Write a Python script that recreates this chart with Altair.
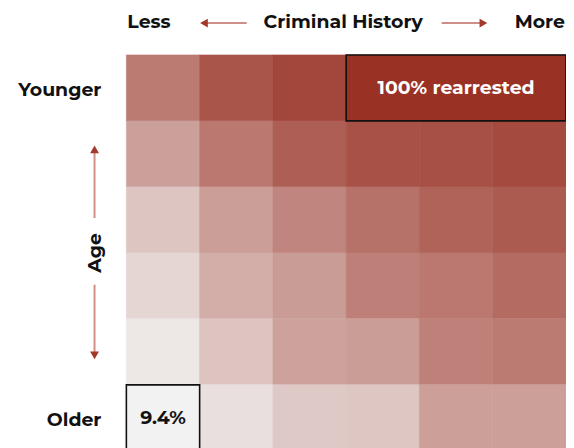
import altair as alt
import pandas as pd

# Rearrest rate (%) grid: rows from Younger (top) to Older (bottom), columns Less -> More criminal history
row_labels = ["Younger", "2", "3", "4", "5", "Older"]
rates = [
    [65.7, 83.1, 90.1, 100.0, None, None],
    [47.9, 66.7, 78.4, 84.5, 85.4, 88.2],
    [30.5, 48.8, 60.6, 70.0, 76.5, 80.3],
    [22.5, 41.3, 49.8, 63.4, 66.7, 72.8],
    [14.6, 31.0, 47.0, 49.3, 62.4, 65.3],
    [9.4, 18.3, 28.6, 30.1, 48.4, 48.4],
]
merged_span = 3  # the 100% cell covers the last three columns of the top row
cell_labels = {(0, 3): "100% rearrested", (5, 0): "9.4%"}

rows = []
for r, vals in enumerate(rates):
    for c, v in enumerate(vals):
        if v is None:
            continue
        span = merged_span if (r, c) == (0, 3) else 1
        rows.append({"row": r, "row2": r + 1, "col": c, "col2": c + span,
                     "rate": v, "label": cell_labels.get((r, c), "")})
cells = pd.DataFrame(rows)

FONT = "Montserrat, Open Sans, sans-serif"
FS = 19
W, H = 442, 398

x = alt.X("col:Q", scale=alt.Scale(domain=[0, 6], nice=False, zero=False), axis=None)
y = alt.Y("row:Q", scale=alt.Scale(domain=[0, 6], nice=False, zero=False, reverse=True), axis=None)
cscale = alt.Scale(domain=[9.4, 100], range=["#f2f2f2", "#993124"], interpolate="rgb")

base = alt.Chart(cells)
heat = base.mark_rect(strokeWidth=0.6).encode(
    x=x, x2="col2:Q", y=y, y2="row2:Q",
    color=alt.Color("rate:Q", legend=None, scale=cscale),
    stroke=alt.Stroke("rate:Q", legend=None, scale=cscale),
)
outline = base.transform_filter("datum.label != ''").mark_rect(
    fillOpacity=0, stroke="#111", strokeWidth=1.6
).encode(x=x, x2="col2:Q", y=y, y2="row2:Q")
labels = base.transform_filter("datum.label != ''").transform_calculate(
    cx="(datum.col + datum.col2) / 2", cy="(datum.row + datum.row2) / 2"
).mark_text(font=FONT, fontWeight="bold", fontSize=FS, baseline="middle").encode(
    x=alt.X("cx:Q", scale=alt.Scale(domain=[0, 6], nice=False, zero=False), axis=None),
    y=alt.Y("cy:Q", scale=alt.Scale(domain=[0, 6], nice=False, zero=False, reverse=True), axis=None),
    text="label:N",
    color=alt.condition("datum.rate > 50", alt.value("white"), alt.value("#111")),
)

one = pd.DataFrame({"k": [0]})
def note(text, xpx, ypx, align="center", angle=0):
    props = dict(font=FONT, fontWeight="bold", fontSize=FS, baseline="middle", align=align, color="#111")
    if angle:
        props["angle"] = angle
    return alt.Chart(one).mark_text(**props).encode(
        x=alt.value(xpx), y=alt.value(ypx), text=alt.value(text))

LINE = "#cf8f88"
HEAD = "#a3382b"
def hline(x1, x2, ypx):
    return alt.Chart(one).mark_rule(color=LINE, strokeWidth=2).encode(
        x=alt.value(x1), x2=alt.value(x2), y=alt.value(ypx))
def vline(y1, y2, xpx):
    return alt.Chart(one).mark_rule(color=LINE, strokeWidth=2).encode(
        y=alt.value(y1), y2=alt.value(y2), x=alt.value(xpx))
def head(shape, xpx, ypx):
    return alt.Chart(one).mark_point(shape=shape, filled=True, color=HEAD, opacity=1, size=80).encode(
        x=alt.value(xpx), y=alt.value(ypx))

ann = [
    note("Less", 1, -33, align="left"),
    note("Criminal History", 218, -33),
    note("More", 441, -33, align="right"),
    hline(78, 121, -32), head("triangle-left", 78, -32),
    hline(317, 359, -32), head("triangle-right", 359, -32),
    note("Younger", -25, 35, align="right"),
    note("Older", -25, 367, align="right"),
    note("Age", -32, 199, angle=270),
    vline(94, 164, -32), head("triangle-up", -32, 95),
    vline(231, 302, -32), head("triangle-down", -32, 302),
]

chart = alt.layer(heat, outline, labels, *ann).properties(
    width=W, height=H,
    autosize=alt.AutoSizeParams(type="none"),
    padding={"left": 119, "top": 46, "right": 0, "bottom": 0},
).configure_view(stroke=None)

chart.save("out.html", embed_options={"renderer": "svg", "actions": False})
